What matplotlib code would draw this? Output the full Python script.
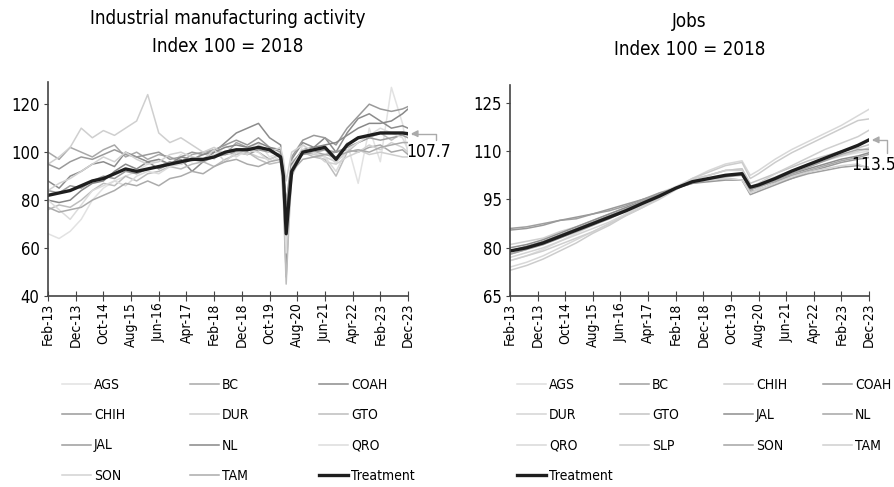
import numpy as np
import matplotlib.pyplot as plt

plt.rcParams['font.family'] = ['DejaVu Sans']
plt.rcParams['font.stretch'] = 'condensed'

# months counted from Feb-2013
tick_months = list(range(0, 131, 10))
tick_labels = ['Feb-13', 'Dec-13', 'Oct-14', 'Aug-15', 'Jun-16', 'Apr-17', 'Feb-18',
               'Dec-18', 'Oct-19', 'Aug-20', 'Jun-21', 'Apr-22', 'Feb-23', 'Dec-23']

# ---- industrial manufacturing activity (read roughly every 4 months)
ind_months = [0, 4, 8, 12, 16, 20, 24, 28, 32, 36, 40, 44, 48, 52, 56, 60, 64, 68, 72, 76,
              80, 84, 85, 86, 87, 88, 92, 96, 100, 104, 108, 112, 116, 120, 124, 128, 130]
ind_AGS = [66, 64, 67, 72, 80, 85, 88, 90, 92, 95, 97, 94, 99, 96, 100, 97, 103, 99, 101, 104,
           98, 100, 88, 55, 75, 90, 103, 99, 101, 95, 104, 87, 110, 96, 127, 112, 99]
ind_BC = [100, 97, 102, 100, 98, 101, 103, 98, 100, 97, 99, 98, 96, 99, 100, 101, 99, 104, 102, 100,
          97, 99, 92, 70, 85, 95, 101, 100, 99, 100, 101, 100, 102, 103, 100, 101, 99]
ind_COAH = [88, 85, 90, 92, 95, 96, 94, 100, 98, 96, 93, 95, 97, 92, 96, 100, 104, 108, 110, 112,
            106, 103, 85, 48, 75, 97, 104, 102, 106, 100, 108, 114, 116, 113, 110, 111, 110]
ind_CHIH = [95, 93, 96, 98, 97, 99, 101, 99, 98, 99, 100, 97, 98, 100, 99, 101, 103, 105, 103, 106,
            102, 100, 90, 62, 84, 98, 105, 107, 106, 103, 110, 115, 120, 118, 117, 118, 119]
ind_DUR = [95, 98, 102, 110, 106, 109, 107, 110, 113, 124, 108, 104, 106, 103, 100, 102, 99, 101, 100, 98,
           97, 99, 92, 75, 88, 96, 100, 99, 98, 96, 100, 101, 99, 100, 99, 98, 98]
ind_GTO = [76, 78, 77, 80, 84, 87, 86, 90, 88, 91, 92, 94, 93, 95, 96, 94, 97, 99, 100, 97,
           95, 96, 80, 45, 70, 90, 100, 98, 97, 90, 100, 104, 106, 108, 105, 108, 107]
ind_JAL = [84, 83, 86, 85, 88, 90, 89, 92, 91, 93, 94, 96, 95, 97, 96, 98, 99, 100, 99, 101,
           100, 99, 92, 78, 88, 95, 99, 100, 101, 100, 102, 104, 106, 105, 106, 107, 106]
ind_NL = [80, 79, 80, 84, 87, 88, 92, 95, 93, 96, 97, 95, 98, 97, 99, 100, 102, 103, 102, 104,
          102, 101, 93, 72, 86, 95, 101, 102, 103, 104, 107, 110, 112, 112, 113, 116, 118]
ind_QRO = [80, 76, 72, 78, 84, 86, 88, 86, 90, 92, 91, 94, 95, 98, 97, 99, 100, 98, 101, 100,
           96, 98, 86, 58, 80, 94, 101, 100, 98, 92, 101, 104, 107, 110, 108, 106, 101]
ind_SON = [84, 87, 89, 92, 95, 98, 96, 100, 97, 95, 96, 99, 100, 98, 97, 101, 96, 100, 99, 103,
           100, 102, 97, 88, 94, 100, 103, 100, 96, 95, 98, 100, 103, 101, 104, 102, 100]
ind_TAM = [77, 75, 76, 77, 80, 82, 84, 87, 86, 88, 86, 89, 90, 92, 91, 94, 96, 97, 95, 94,
           96, 97, 90, 80, 86, 92, 97, 98, 99, 98, 100, 101, 100, 102, 103, 104, 104]
ind_treat = [82, 83, 84, 86, 88, 89, 91, 93, 92, 93, 94, 95, 96, 97, 97, 98, 100, 101, 101, 102,
             101, 98, 90, 66, 80, 92, 100, 101, 102, 97, 103, 106, 107, 108, 108, 108, 107.7]

# ---- jobs (read roughly every 6 months)
job_months = [0, 6, 12, 18, 24, 30, 36, 42, 48, 54, 60, 66, 72, 78, 84, 87, 90,
              96, 102, 108, 114, 120, 126, 130]
job_AGS = [76, 77.5, 79.5, 82, 84.5, 87, 89.5, 92, 94.5, 97, 99, 101.5, 102.5, 104, 104.5, 99, 100,
           102, 104, 106, 107.5, 108.5, 109.5, 110]
job_BC = [86, 86.5, 87.5, 88.5, 89, 90.5, 91.5, 93, 95, 96.5, 98.5, 100, 101, 101.5, 101, 97.5, 98,
          100, 101.5, 103, 104, 105, 105.5, 105]
job_CHIH = [81, 82, 83, 85, 86.5, 88.5, 90.5, 92.5, 94.5, 96.5, 98.5, 100, 101.5, 102.5, 103, 97, 98.5,
            101, 103.5, 105.5, 107, 108.5, 110, 111]
job_COAH = [85.5, 86, 87, 88.5, 89.5, 90.5, 92, 93.5, 95, 97, 98.5, 100, 100.5, 101, 101, 96.5, 97.5,
            99.5, 101.5, 103.5, 105, 106.5, 107.5, 108]
job_DUR = [77, 78.5, 80, 82, 84, 86, 88, 90.5, 93, 95.5, 98.5, 100.5, 101, 101.5, 101, 97, 98,
           100, 102, 103.5, 104.5, 105.5, 106, 104.5]
job_GTO = [78, 79.5, 81, 83, 85, 87, 89.5, 91.5, 94, 96.5, 98.5, 101, 102.5, 104, 104.5, 100, 101,
           103, 105, 107, 108.5, 110, 111, 112]
job_JAL = [80, 81, 82.5, 84.5, 86.5, 88.5, 90.5, 92.5, 94.5, 96.5, 98.5, 100.5, 101.5, 102.5, 103, 98.5, 99.5,
           101, 103, 104.5, 106, 107.5, 108.5, 109.5]
job_NL = [79, 80.5, 82, 84, 86, 88, 90, 92, 94.5, 96.5, 98.5, 100.5, 101.5, 102, 102.5, 98, 99,
          100.5, 102.5, 104, 105.5, 107, 108, 109]
job_QRO = [74, 75.5, 77.5, 80, 82.5, 85, 87.5, 90.5, 93.5, 96, 98.5, 101.5, 104, 106, 107, 102.5, 104,
           107.5, 110.5, 113, 115.5, 118, 121, 123]
job_SLP = [73, 74.5, 76.5, 79, 81.5, 84.5, 87, 90, 92.5, 95.5, 98.5, 101.5, 103.5, 105.5, 106.5, 101.5, 103,
           106.5, 109.5, 112, 114.5, 117, 119.5, 120]
job_SON = [78, 79.5, 81, 83, 85, 87, 89, 91.5, 94, 96.5, 98.5, 100.5, 101.5, 102.5, 103, 98, 99,
           101, 103, 105, 107, 109, 110.5, 110.5]
job_TAM = [76, 77.5, 79, 81, 83, 85, 87.5, 90, 92.5, 95, 98, 101, 102.5, 104, 104, 98.5, 100,
           103, 105.5, 108, 110.5, 112.5, 114.5, 116.5]
job_treat = [79, 80, 81.5, 83.5, 85.5, 87.5, 89.5, 91.5, 93.8, 96, 98.5, 100.5, 101.5, 102.5, 103, 98.8, 99.5,
             101.5, 103.8, 105.8, 107.8, 109.8, 111.8, 113.5]

ind_series = [('AGS', ind_AGS, '#e2e2e2'), ('BC', ind_BC, '#a8a8a8'), ('COAH', ind_COAH, '#8c8c8c'),
              ('CHIH', ind_CHIH, '#9a9a9a'), ('DUR', ind_DUR, '#cfcfcf'), ('GTO', ind_GTO, '#bdbdbd'),
              ('JAL', ind_JAL, '#9c9c9c'), ('NL', ind_NL, '#888888'), ('QRO', ind_QRO, '#dcdcdc'),
              ('SON', ind_SON, '#d2d2d2'), ('TAM', ind_TAM, '#ababab')]
job_series = [('AGS', job_AGS, '#dedede'), ('BC', job_BC, '#a0a0a0'), ('CHIH', job_CHIH, '#d0d0d0'),
              ('COAH', job_COAH, '#9a9a9a'), ('DUR', job_DUR, '#d4d4d4'), ('GTO', job_GTO, '#c4c4c4'),
              ('JAL', job_JAL, '#8e8e8e'), ('NL', job_NL, '#a6a6a6'), ('QRO', job_QRO, '#d8d8d8'),
              ('SLP', job_SLP, '#cccccc'), ('SON', job_SON, '#a4a4a4'), ('TAM', job_TAM, '#cfcfcf')]

fig = plt.figure(figsize=(8.94, 4.87), dpi=100)
ax1 = fig.add_axes([0.0537, 0.392, 0.4027, 0.4394])
ax2 = fig.add_axes([0.5705, 0.392, 0.4016, 0.4333])


def draw(ax, months, series, treat, ylim, yticks, title):
    for name, vals, col in series:
        ax.plot(months, vals, color=col, lw=1.1, label=name)
    ax.plot(months, treat, color='#1e1e1e', lw=2.4, label='Treatment')
    ax.set_xlim(0, 130)
    ax.set_ylim(*ylim)
    ax.set_yticks(yticks)
    ax.set_xticks(tick_months)
    ax.set_xticklabels(tick_labels, rotation=90)
    for s in ['top', 'right']:
        ax.spines[s].set_visible(False)
    for s in ['left', 'bottom']:
        ax.spines[s].set_color('#444444')
        ax.spines[s].set_linewidth(1.2)
    ax.tick_params(axis='x', direction='inout', length=7, color='#444444', labelsize=10, pad=1)
    ax.tick_params(axis='y', length=3, color='#444444', labelsize=12, pad=3)
    ax.set_title(title, fontsize=13.5, pad=22, linespacing=1.55)


draw(ax1, ind_months, ind_series, ind_treat, (40, 129.2), [40, 60, 80, 100, 120],
     'Industrial manufacturing activity\nIndex 100 = 2018')
draw(ax2, job_months, job_series, job_treat, (65, 130.5), [65, 80, 95, 110, 125],
     'Jobs\nIndex 100 = 2018')

arrow = dict(arrowstyle='-|>', color='#aaaaaa', lw=1.0, mutation_scale=10,
             connectionstyle='angle,angleA=90,angleB=0,rad=0', shrinkA=0, shrinkB=2)
ax1.annotate('107.7', xy=(130, ind_treat[-1]), xytext=(137.5, 100), fontsize=12.5,
             ha='center', va='center', annotation_clip=False,
             arrowprops=dict(arrow, relpos=(0.65, 1.0)))
ax2.annotate('113.5', xy=(130, job_treat[-1]), xytext=(139.6, 105.7), fontsize=12.5,
             ha='right', va='center', annotation_clip=False,
             arrowprops=dict(arrow, relpos=(0.8, 1.0)))


def column_legends(handles, labels, cols, xs):
    # one small legend per column, so each column starts where the reference has it
    for c, x in zip(cols, xs):
        fig.legend([handles[i] for i in c], [labels[i] for i in c], frameon=False,
                   loc='upper left', bbox_to_anchor=(x / 894, 1 - 378 / 487),
                   fontsize=10, handlelength=2.1, handletextpad=0.2, labelspacing=1.17,
                   borderaxespad=0, borderpad=0)


h1, l1 = ax1.get_legend_handles_labels()
column_legends(h1, l1, [[0, 3, 6, 9], [1, 4, 7, 10], [2, 5, 8, 11]], [62, 190, 319])
h2, l2 = ax2.get_legend_handles_labels()
column_legends(h2, l2, [[0, 4, 8, 12], [1, 5, 9], [2, 6, 10], [3, 7, 11]], [517, 620, 724, 823])

fig.savefig('out.png', dpi=100)
